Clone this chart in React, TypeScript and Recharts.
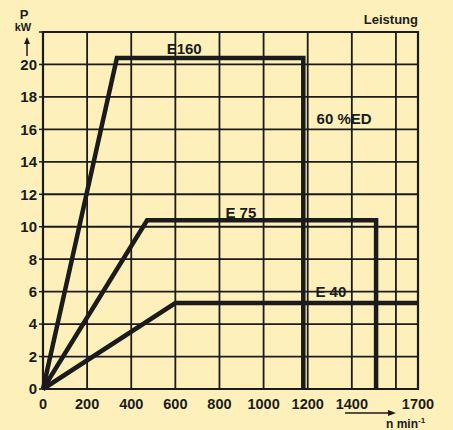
import React from 'react';
import { LineChart, Line, XAxis, YAxis, CartesianGrid, ReferenceArea, ReferenceDot } from 'recharts';

// speed n in min^-1, power P in kW
const xTicks = [0, 200, 400, 600, 800, 1000, 1200, 1400, 1600, 1700];
const yTicks = [0, 2, 4, 6, 8, 10, 12, 14, 16, 18, 20, 22];

const e160 = [
  { n: 0, p: 0 },
  { n: 335, p: 20.4 },
  { n: 1180, p: 20.4 },
  { n: 1180, p: 0 },
];
const e75 = [
  { n: 0, p: 0 },
  { n: 472, p: 10.4 },
  { n: 1510, p: 10.4 },
  { n: 1510, p: 0 },
];
const e40 = [
  { n: 0, p: 0 },
  { n: 600, p: 5.3 },
  { n: 1700, p: 5.3 },
];

const seriesLabels = [
  { n: 640, p: 21.0, text: 'E160' },
  { n: 897, p: 10.9, text: 'E 75' },
  { n: 1305, p: 6.0, text: 'E 40' },
  { n: 1365, p: 16.7, text: '60 %ED' },
];

const INK = '#1b1b1b';
const BG = '#fdf0bb';
const FONT = '"Liberation Sans", Arial, sans-serif';

const TextLabel = ({ text }: { text: string }) => (props: any) => {
  const { viewBox } = props;
  return (
    <text x={viewBox.x} y={viewBox.y} textAnchor="middle" dominantBaseline="central"
      fontFamily={FONT} fontWeight="bold" fontSize={15} fill={INK}>{text}</text>
  );
};

const App: React.FC = () => {
  return (
    <div style={{ position: 'absolute', left: 0, top: 0, width: 453, height: 430, background: BG, fontFamily: FONT }}>
      <LineChart width={453} height={430} margin={{ top: 32, right: 35, left: 0, bottom: 0 }}>
        <CartesianGrid stroke={INK} strokeWidth={1.8} />
        <XAxis
          type="number"
          dataKey="n"
          domain={[0, 1700]}
          ticks={xTicks}
          interval={0}
          height={41}
          axisLine={false}
          tickLine={false}
          tickFormatter={(v: number) => (v === 1600 ? '' : String(v))}
          tick={{ fill: INK, fontSize: 14.5, fontWeight: 'bold', fontFamily: FONT }}
          tickMargin={4}
        />
        <YAxis
          type="number"
          dataKey="p"
          domain={[0, 22]}
          ticks={yTicks}
          interval={0}
          width={43}
          axisLine={false}
          tickLine={{ stroke: INK, strokeWidth: 1.5 }}
          tickSize={4}
          tickFormatter={(v: number) => (v === 22 ? '' : String(v))}
          tick={{ fill: INK, fontSize: 15, fontWeight: 'bold', fontFamily: FONT }}
        />
        <ReferenceArea x1={0} x2={1700} y1={0} y2={22} fill="none" stroke={INK} strokeWidth={2.2} />
        <Line data={e160} dataKey="p" type="linear" stroke={INK} strokeWidth={4.5} dot={false} isAnimationActive={false} strokeLinejoin="miter" />
        <Line data={e75} dataKey="p" type="linear" stroke={INK} strokeWidth={4.5} dot={false} isAnimationActive={false} strokeLinejoin="miter" />
        <Line data={e40} dataKey="p" type="linear" stroke={INK} strokeWidth={4.5} dot={false} isAnimationActive={false} strokeLinejoin="miter" />
        {seriesLabels.map((l) => (
          <ReferenceDot key={l.text} x={l.n} y={l.p} r={0} fill="none" stroke="none" ifOverflow="visible"
            label={TextLabel({ text: l.text })} />
        ))}
      </LineChart>
      <svg width={453} height={430} style={{ position: 'absolute', left: 0, top: 0, pointerEvents: 'none' }}>
        <text x={24} y={19} textAnchor="middle" fontFamily={FONT} fontWeight="bold" fontSize={13} fill={INK}>P</text>
        <text x={23} y={31} textAnchor="middle" fontFamily={FONT} fontWeight="bold" fontSize={11} fill={INK}>kW</text>
        <line x1={27} y1={56} x2={27} y2={42} stroke={INK} strokeWidth={1.5} />
        <polygon points="24,44 30,44 27,37" fill={INK} />
        <text x={418} y={24} textAnchor="end" fontFamily={FONT} fontWeight="bold" fontSize={13} fill={INK}>Leistung</text>
        <line x1={345} y1={413} x2={390} y2={413} stroke={INK} strokeWidth={1.5} />
        <polygon points="388,410 396,413 388,416" fill={INK} />
        <text x={386} y={428} fontFamily={FONT} fontWeight="bold" fontSize={12} fill={INK}>n  min<tspan dy={-5} fontSize={8}>-1</tspan></text>
      </svg>
    </div>
  );
};

export default App;
